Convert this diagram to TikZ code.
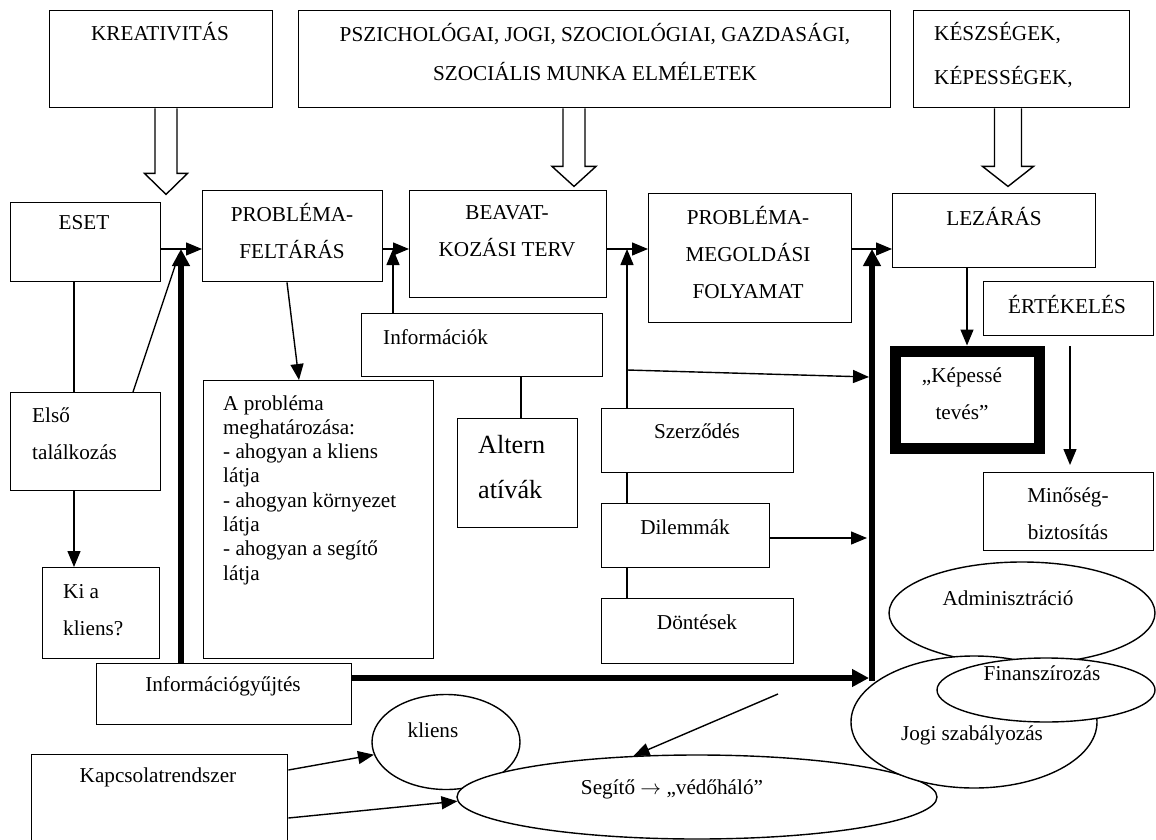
\documentclass[tikz,border=0pt]{standalone}
\usepackage{fontspec}
\setmainfont{Liberation Serif}
\usetikzlibrary{arrows.meta,shapes.geometric,calc}
\begin{document}
\begin{tikzpicture}[x=1pt,y=-1pt,
  box/.style={draw,line width=1.4pt,rectangle,inner sep=0pt,anchor=north west},
  txt/.style={inner sep=0pt,font=\fontsize{21.2}{37}\selectfont},
  arr/.style={line width=1.4pt,-{Triangle[length=16pt,width=13pt]}},
  thk/.style={line width=5.5pt,-{Triangle[length=17pt,width=17pt]}},
  ln/.style={line width=1.4pt},
  ell/.style={draw,ellipse,line width=1.4pt,fill=white,inner sep=0pt},
  hollow/.style={draw,line width=1.4pt,fill=white,line join=miter}]
\fill[white] (0,0) rectangle (1156,840);
\useasboundingbox (0,0) rectangle (1156,840);
% boxes
\node[box,minimum width=223pt,minimum height=97pt] (kreat) at (49,10) {};
\node[box,minimum width=592pt,minimum height=97pt] (psz) at (298,10) {};
\node[box,minimum width=216pt,minimum height=97pt] (kesz) at (913,10) {};
\node[box,minimum width=150pt,minimum height=79pt] (eset) at (10,202) {};
\node[box,minimum width=180pt,minimum height=91pt] (prob) at (202,190) {};
\node[box,minimum width=197pt,minimum height=107pt] (beav) at (409,190) {};
\node[box,minimum width=203pt,minimum height=129pt] (pm) at (648,193) {};
\node[box,minimum width=203pt,minimum height=74pt] (lez) at (892,193) {};
\node[box,minimum width=170pt,minimum height=54pt] (ertek) at (983,281) {};
\node[box,line width=11pt,minimum width=144pt,minimum height=97pt] (kep) at (889.5,345.5) {};
\node[box,minimum width=170pt,minimum height=78pt] (minos) at (983,472) {};
\node[box,minimum width=241pt,minimum height=63pt] (infok) at (361,313) {};
\node[box,minimum width=120pt,minimum height=109pt] (alt) at (457,418) {};
\node[box,minimum width=230pt,minimum height=278pt] (aprob) at (203,380) {};
\node[box,minimum width=150pt,minimum height=98pt] (elso) at (10,392) {};
\node[box,minimum width=117pt,minimum height=91pt] (kia) at (42,567) {};
\node[box,minimum width=192pt,minimum height=64pt] (szerz) at (601,408) {};
\node[box,minimum width=168pt,minimum height=64pt] (dil) at (601,503) {};
\node[box,minimum width=192pt,minimum height=65pt] (dont) at (601,598) {};
\node[box,minimum width=255pt,minimum height=61pt] (infog) at (96,663) {};
\node[box,minimum width=256pt,minimum height=110pt] (kapcs) at (31,754) {};
% ellipses
\node[ell,minimum width=148pt,minimum height=95pt] (kliens) at (446,742) {};
\node[ell,minimum width=480pt,minimum height=84pt] (segito) at (697,797) {};
\node[ell,minimum width=266pt,minimum height=102pt] (admin) at (1022,613) {};
\node[ell,minimum width=246pt,minimum height=132pt] (jogi) at (974,722) {};
\node[ell,minimum width=218pt,minimum height=64pt] (finan) at (1046,690) {};
% hollow arrows
\coordinate (a1) at (kreat.south -| 166,0);
\coordinate (a2) at (psz.south -| 574,0);
\coordinate (a3) at (kesz.south -| 1008,0);
\draw[hollow] ($(a1)+(-11,0)$) -- ++(0,65) -- ++(-10.5,0) -- ++(21.5,21) -- ++(21.5,-21) -- ++(-10.5,0) -- ++(0,-65);
\draw[hollow] ($(a2)+(-11,0)$) -- ++(0,58) -- ++(-11,0) -- ++(22,20) -- ++(22,-20) -- ++(-11,0) -- ++(0,-58);
\draw[hollow] ($(a3)+(-13.5,0)$) -- ++(0,58) -- ++(-12,0) -- ++(25.5,20) -- ++(25.5,-20) -- ++(-12,0) -- ++(0,-58);
% helper coordinates
\coordinate (row) at (0,249);
\coordinate (lx) at (181,0);
\coordinate (rx) at (872,0);
\coordinate (hy) at (0,678);
\coordinate (ix) at (393,0);
\coordinate (sx) at (627,0);
\coordinate (ax) at (74,0);
\coordinate (alx) at (521,0);
\coordinate (ex) at (1070,0);
\coordinate (ka) at (627,370);
\coordinate (kb) at (869,377);
\coordinate (da) at (867,538);
\coordinate (dg) at (778,694);
\coordinate (dtip) at (179,254);
% main row arrows
\draw[arr] (eset.east |- row) -- (prob.west |- row);
\draw[arr] (prob.east |- row) -- (beav.west |- row);
\draw[arr] (beav.east |- row) -- (pm.west |- row);
\draw[arr] (pm.east |- row) -- (lez.west |- row);
% thick lines
\draw[thk] (infog.north -| lx) -- (lx |- row);
\draw[thk] (infog.east |- hy) -- ($(rx |- hy)+(-3,0)$);
\draw[thk] ($(rx |- hy)+(0,2.75)$) -- (rx |- row);
% thin connectors
\draw[ln] (elso.north -| 133,0) -- (dtip);
\draw[arr] (infok.north -| ix) -- (ix |- row);
\draw[arr] (szerz.north -| sx) -- (sx |- row);
\draw[arr] (ka) -- (kb);
\draw[ln] (szerz.south -| sx) -- (dil.north -| sx);
\draw[ln] (dil.south -| sx) -- (dont.north -| sx);
\draw[arr] (dil.east |- da) -- (da);
\draw[ln] (infok.south -| alx) -- (alt.north -| alx);
\draw[ln] (eset.south -| ax) -- (elso.north -| ax);
\draw[arr] (elso.south -| ax) -- (kia.north -| ax);
\draw[arr] (prob.south -| 287,0) -- (aprob.north -| 299,0);
\draw[arr] (lez.south -| kep.north) -- (kep.north);
\draw[arr,shorten <=10pt,shorten >=7pt] (ertek.south -| ex) -- (minos.north -| ex);
\draw[arr] (kapcs.east |- 0,770) -- (kliens.190);
\draw[arr] (kapcs.east |- 0,818) -- (segito.181);
\draw[arr] (dg) -- (segito.147);
% texts
\node[txt] (t-kreat) at (160,32) {KREATIVITÁS};
\node[txt,align=center,font=\fontsize{21.2}{39}\selectfont] (t-psz) at (595,52.5) {PSZICHOLÓGAI, JOGI, SZOCIOLÓGIAI, GAZDASÁGI,\\SZOCIÁLIS MUNKA ELMÉLETEK};
\node[txt,align=left,anchor=west,font=\fontsize{21.2}{44}\selectfont] (t-kesz) at (934,55) {KÉSZSÉGEK,\\KÉPESSÉGEK,};
\node[txt] (t-eset) at (84,223) {ESET};
\node[txt,align=center] (t-prob) at (292,231.5) {PROBLÉMA-\\FELTÁRÁS};
\node[txt,align=center] (t-beav) at (507,231) {BEAVAT-\\KOZÁSI TERV};
\node[txt,align=center] (t-pm) at (748,253) {PROBLÉMA-\\MEGOLDÁSI\\FOLYAMAT};
\node[txt] (t-lez) at (994,217) {LEZÁRÁS};
\node[txt] (t-ertek) at (1067,305) {ÉRTÉKELÉS};
\node[txt,align=center] (t-kep) at (962,393.5) {„Képessé\\tevés”};
\node[txt,align=center] (t-minos) at (1068,513.5) {Minőség-\\biztosítás};
\node[txt,anchor=west] (t-infok) at (383,337) {Információk};
\node[txt,align=left,anchor=west,font=\fontsize{26.2}{45}\selectfont] (t-alt) at (478,467.5) {Altern\\atívák};
\node[txt] (t-szerz) at (697,431) {Szerződés};
\node[txt] (t-dil) at (685,527) {Dilemmák};
\node[txt] (t-dont) at (697,622) {Döntések};
\node[txt,align=left,anchor=west] (t-elso) at (32,433.5) {Első\\találkozás};
\node[txt,align=left,anchor=west] (t-kia) at (63,610) {Ki a\\kliens?};
\node[txt,align=left,anchor=west,font=\fontsize{21.2}{24.3}\selectfont] (t-aprob) at (223,490) {A probléma\\meghatározása:\\- ahogyan a kliens\\látja\\- ahogyan környezet\\látja\\- ahogyan a segítő\\látja};
\node[txt] (t-infog) at (223,686) {Információgyűjtés};
\node[txt] (t-kapcs) at (158,777) {Kapcsolatrendszer};
\node[txt] (t-kliens) at (433,730) {kliens};
\node[txt] (t-segito) at (672,789) {Segítő $\rightarrow$ „védőháló”};
\node[txt] (t-admin) at (1008,598) {Adminisztráció};
\node[txt] (t-finan) at (1042,673) {Finanszírozás};
\node[txt] (t-jogi) at (972,735) {Jogi szabályozás};
\end{tikzpicture}
\end{document}
